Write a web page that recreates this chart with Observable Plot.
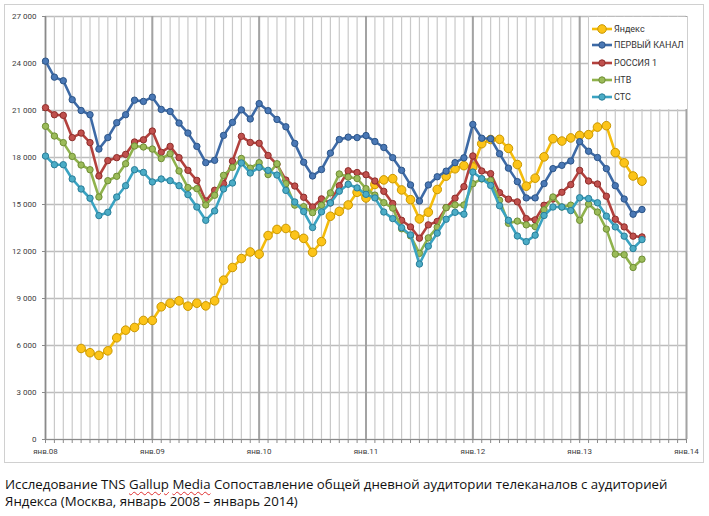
<!DOCTYPE html>
<html><head><meta charset="utf-8">
<script src="https://cdn.jsdelivr.net/npm/d3@7"></script>
<script src="https://cdn.jsdelivr.net/npm/@observablehq/plot@0.6"></script>
<style>
body{margin:0;background:#fff;width:709px;height:516px;overflow:hidden;position:relative;font-family:Roboto,"Open Sans",sans-serif}
#chart{position:absolute;left:0;top:0}
#chart svg{overflow:visible}
#frame{position:absolute;left:4px;top:4px;width:700px;height:459px;border:1px solid #d0d0d0;box-sizing:border-box;pointer-events:none}
#legend{position:absolute;left:589px;top:17px;width:98px;height:92px;background:#fff}
.row{position:absolute;left:0;height:12px;display:flex;align-items:center;font-size:9px;color:#333;white-space:nowrap}
.row svg{margin-right:1px}
#caption{position:absolute;left:5px;top:476px;color:#111;font-family:"Open Sans",Roboto,sans-serif}
#caption div{white-space:nowrap;line-height:17px}
.sp{text-decoration:underline wavy #e03030;text-decoration-thickness:1px;text-underline-offset:2px}
</style></head><body>
<div id="chart"></div><div id="frame"></div><div id="legend"></div>
<div id="caption"><div id="l1">Исследование TNS <span class="sp">Gallup</span> <span class="sp">Media</span> Сопоставление общей дневной аудитории телеканалов с аудиторией</div><div id="l2">Яндекса (Москва, январь 2008 – январь 2014)</div></div>
<script>
// Month index 0 = январь 2008
const seriesNames = ["Яндекс", "ПЕРВЫЙ КАНАЛ", "РОССИЯ 1", "НТВ", "СТС"];
const seriesStart = [4, 0, 0, 0, 0];
const yandex = [5810,5540,5370,5660,6490,6980,7150,7600,7600,8470,8700,8850,8510,8700,8530,8850,10170,10980,11550,11970,11830,13020,13410,13470,13050,12840,11950,12630,14250,14560,14970,15780,15420,16280,16570,16650,15930,15310,14080,14510,15960,16810,17280,17480,17390,18880,19150,19160,18580,17550,16170,16680,18040,19200,19050,19250,19410,19460,19940,20030,18310,17660,16820,16490];
const perviy = [24150,23130,22900,21690,21000,20730,18540,19270,20220,20730,21660,21580,21850,21070,20940,20200,19560,18710,17670,17820,19410,20240,21040,20460,21440,20990,20430,19960,18900,17700,16820,17230,18280,19150,19300,19270,19400,19020,18640,17990,17180,16250,15220,16250,16770,17130,17670,17980,20110,19230,19200,18240,17320,16460,15420,15420,16330,17290,17500,17780,19010,18400,18000,17290,16200,15350,14380,14680];
const rossiya = [21180,20730,20690,19270,19560,18950,16820,17800,17990,18200,18990,19130,19690,18330,18710,17990,17180,16540,15230,15910,16330,17770,19350,18960,18910,18130,17560,16560,16180,15460,14840,15360,15100,16200,17150,17040,16900,16500,15840,15060,13990,13570,12850,13700,13920,14800,15400,16140,18100,17140,16970,15760,15340,15170,14100,14020,14950,15350,15780,16270,17180,16500,16310,15530,14060,13570,12980,12930];
const ntv = [19990,19370,18950,18070,17520,17220,15480,16520,16800,17600,18730,18670,18540,17930,18240,17140,16080,16010,14970,15590,16860,17370,17940,17320,17670,16910,17600,16330,14960,14860,14480,14950,15740,16950,16750,16660,16010,15600,15120,14770,13450,13000,11880,12870,13550,14800,14970,14970,16330,16630,16540,15270,13800,13940,13700,13590,14660,15480,14840,14960,13990,15030,14520,13430,11830,11790,10980,11510];
const sts = [18090,17540,17540,16630,15990,15400,14290,14500,15480,16200,17220,17050,16440,16630,16520,16200,15630,14840,13990,14590,15990,16370,17650,17010,17370,17180,16880,15900,15160,14550,13530,14530,15100,15850,16290,16060,15650,15420,14520,14100,13520,13060,11200,12340,13170,14060,14500,14380,17070,16650,16220,14920,13990,12990,12630,13040,14300,14840,14840,14610,15430,15380,15110,14260,13570,12980,12190,12760];
const seriesValues = [yandex, perviy, rossiya, ntv, sts];
const xTickLabels = ["янв.08","янв.09","янв.10","янв.11","янв.12","янв.13","янв.14"];
const yTicks = [0,3000,6000,9000,12000,15000,18000,21000,24000,27000];

const lineColors = ["#f4bc0c","#3d6aa6","#b3413d","#8fb24c","#3aa3c2"];
const dotFill    = ["#fcc419","#4a78b5","#c0504d","#9bbb59","#4bacc6"];
const dotStroke  = ["#c99700","#2c5588","#8e2e2b","#6f8e35","#2a7e99"];
const dotR       = [4.3,3.2,3.2,3.2,3.2];

const months = d3.range(0, 73);
const yearTicks = d3.range(0, 73, 12);
const loc = d3.formatLocale({decimal:",", thousands:"\u00a0", grouping:[3], currency:["",""]});
const fmt = loc.format(",");

const rows = [];
seriesValues.forEach((vals, s) => vals.forEach((v, i) => rows.push({s, name: seriesNames[s], m: seriesStart[s] + i, v})));

const marks = [
  Plot.gridY(yTicks, {stroke:"#bdbdbd", strokeOpacity:1, strokeWidth:1.3}),
  Plot.gridX(months, {stroke:"#c9c9c9", strokeOpacity:1, strokeWidth:1.2}),
  Plot.gridX(yearTicks, {stroke:"#a3a3a3", strokeOpacity:1, strokeWidth:2}),
  Plot.ruleY([0], {stroke:"#8a8a8a"}),
  Plot.ruleX([0], {stroke:"#8a8a8a"}),
  Plot.axisX(months, {tickSize:4, tickFormat:() => "", stroke:"#8a8a8a", label:null}),
  Plot.axisX(yearTicks, {tickSize:0, tickPadding:9, tickFormat: d => xTickLabels[d/12], fontSize:8, fill:"#404040", label:null}),
  Plot.axisY(yTicks, {tickSize:3, tickPadding:6, tickFormat: fmt, fontSize:8, fill:"#404040", stroke:"#8a8a8a", label:null})
];
seriesNames.forEach((n, s) => {
  const d = rows.filter(r => r.s === s);
  marks.push(Plot.line(d, {x:"m", y:"v", stroke: lineColors[s], strokeWidth:2.6}));
  marks.push(Plot.dot(d, {x:"m", y:"v", r: dotR[s], fill: dotFill[s], stroke: dotStroke[s], strokeWidth:1}));
});

const chart = Plot.plot({
  width:709, height:470,
  marginLeft:45, marginRight:23, marginTop:16, marginBottom:31,
  style:{fontFamily:'"Liberation Sans Narrow", Roboto, sans-serif', background:"transparent", overflow:"visible"},
  x:{type:"linear", domain:[0,72], axis:null, label:null},
  y:{domain:[0,27000], axis:null, label:null},
  marks
});
document.getElementById("chart").appendChild(chart);

// legend
const legend = document.getElementById("legend");
const centers = [11.7, 28, 45.7, 62.7, 80];
seriesNames.forEach((n, s) => {
  const row = document.createElement("div");
  row.className = "row";
  row.style.top = (centers[s] - 6) + "px";
  row.style.left = "2px";
  row.innerHTML = `<svg width="22" height="12"><line x1="1" x2="21" y1="6" y2="6" stroke="${lineColors[s]}" stroke-width="2.6"/><circle cx="11" cy="6" r="${dotR[s]}" fill="${dotFill[s]}" stroke="${dotStroke[s]}"/></svg><span>${n}</span>`;
  legend.appendChild(row);
});

// fit caption width to reference
const l1 = document.getElementById("l1");
const cap = document.getElementById("caption");
cap.style.fontSize = "13px";
const w = l1.getBoundingClientRect().width;
cap.style.fontSize = (13 * 663 / w).toFixed(2) + "px";
</script>
</body></html>
